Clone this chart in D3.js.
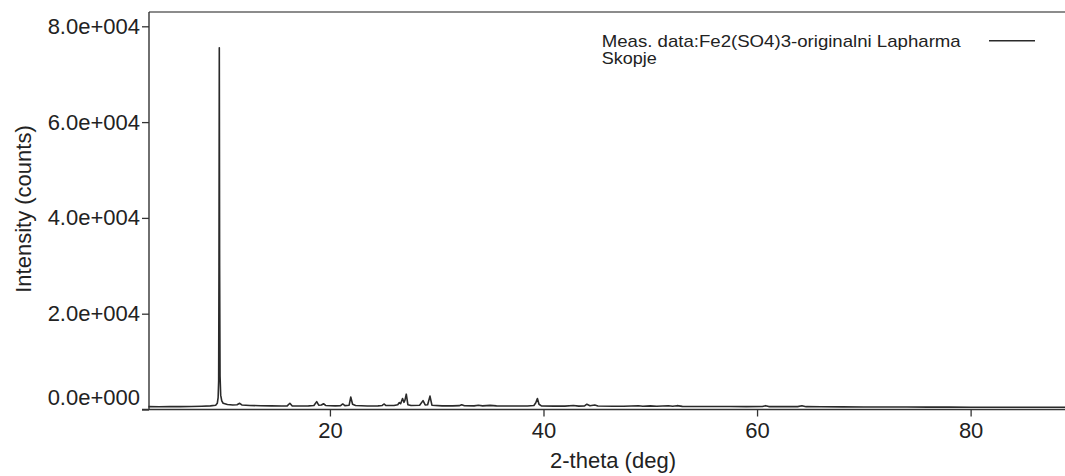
<!DOCTYPE html>
<html>
<head>
<meta charset="utf-8">
<script src="https://cdn.jsdelivr.net/npm/d3@7/dist/d3.min.js"></script>
<style>
  html, body { margin: 0; padding: 0; background: #fff; }
  svg { display: block; font-family: "Liberation Sans", Arial, sans-serif; }
</style>
</head>
<body>
<svg id="chart" width="1065" height="476"></svg>
<script>
// ---- data ----
const twoTheta = [
  3.0, 4.0, 5.0, 6.0, 7.0, 8.0, 8.8, 9.3, 9.45, 9.53, 9.58, 9.61, 9.64, 9.67, 9.71, 9.77, 9.87, 10.0,
  10.4, 10.9, 11.3, 11.55, 11.75, 12.5, 13.5, 14.5, 15.5, 16.0, 16.25, 16.45, 17.0, 18.0, 18.5, 18.76,
  18.95, 19.2, 19.4, 19.6, 20.5, 21.0, 21.2, 21.4, 21.8, 21.95, 22.12, 22.4, 23.5, 24.5, 24.9, 25.06,
  25.25, 26.0, 26.35, 26.5, 26.62, 26.8, 26.93, 27.02, 27.15, 27.3, 27.6, 28.4, 28.72, 28.92, 29.15,
  29.37, 29.55, 30.5, 31.5, 32.1, 32.34, 32.6, 33.5, 33.9, 34.3, 35.0, 35.6, 36.5, 37.5, 38.5, 39.1,
  39.28, 39.43, 39.58, 39.8, 41.0, 42.0, 42.8, 43.3, 43.85, 44.06, 44.35, 44.8, 45.1, 46.5, 47.5, 48.9,
  49.3, 50.0, 50.6, 51.7, 52.1, 52.5, 53.0, 54.5, 56.0, 57.5, 59.0, 60.5, 60.8, 61.1, 62.5, 63.8, 64.2,
  64.6, 66.0, 68.0, 70.0, 72.0, 74.0, 76.0, 78.0, 80.0, 82.0, 84.0, 86.0, 88.0, 90.0
];
const counts = [
  600, 580, 590, 600, 620, 680, 760, 900, 1300, 2500, 6000, 30000, 75500, 30000, 7000, 3000, 1800, 1300,
  1050, 950, 1000, 1300, 950, 850, 780, 750, 740, 760, 1300, 760, 740, 760, 820, 1650,
  900, 950, 1200, 850, 760, 800, 1150, 800, 900, 2600, 1100, 820, 740, 760, 850, 1150,
  820, 820, 1000, 1450, 1200, 2300, 1500, 1900, 3200, 1000, 820, 900, 1850, 950, 1000,
  2800, 900, 760, 750, 800, 1000, 780, 760, 880, 760, 870, 760, 740, 730, 740, 850,
  1400, 2300, 1100, 760, 700, 700, 830, 700, 750, 1100, 800, 950, 720, 680, 680, 780,
  680, 750, 670, 780, 680, 800, 660, 640, 620, 620, 610, 620, 800, 610, 590, 600, 780,
  590, 560, 540, 530, 520, 510, 500, 490, 480, 475, 470, 465, 460, 455
];
const xTicks = [20, 40, 60, 80];
const yTicks = [0, 20000, 40000, 60000, 80000];
const yTickLabels = ["0.0e+000", "2.0e+004", "4.0e+004", "6.0e+004", "8.0e+004"];
const seriesName = ["Meas. data:Fe2(SO4)3-originalni Lapharma", "Skopje"];
const xTitle = "2-theta (deg)";
const yTitle = "Intensity (counts)";

// ---- layout ----
const svg = d3.select("#chart");
const pLeft = 149, pRight = 1077.4, pTop = 12, pBottom = 409.5;
const x = d3.scaleLinear().domain([3, 90]).range([pLeft - 0.6, pRight]);
const y = d3.scaleLinear().domain([0, 80000]).range([pBottom, 26.3]);

const textColor = "#222";

// frame (top + left)
svg.append("line").attr("x1", pLeft).attr("x2", 1065).attr("y1", pTop).attr("y2", pTop)
  .attr("stroke", "#666").attr("stroke-width", 1.6);
svg.append("line").attr("x1", pLeft).attr("x2", pLeft).attr("y1", pTop).attr("y2", pBottom)
  .attr("stroke", "#333").attr("stroke-width", 1.4);

// data line
const data = twoTheta.map((t, i) => [t, counts[i]]);
svg.append("path")
  .datum(data)
  .attr("fill", "none")
  .attr("stroke", "#2a2a2a")
  .attr("stroke-width", 1.6)
  .attr("stroke-linejoin", "round")
  .attr("d", d3.line().x(d => x(d[0])).y(d => y(d[1])));

// x axis
const gx = svg.append("g").attr("transform", `translate(0,${pBottom})`)
  .call(d3.axisBottom(x).tickValues(xTicks).tickSize(7).tickPadding(6).tickFormat(d3.format("d")));
gx.select(".domain").attr("d", `M${pLeft - 7},0H1065`).attr("stroke", "#333").attr("stroke-width", 1.6);
gx.selectAll(".tick line").attr("stroke", "#333").attr("stroke-width", 1.3);
gx.selectAll(".tick text").attr("font-size", 22).attr("fill", textColor)
  .attr("font-family", "Liberation Sans, Arial, sans-serif");

// y axis
const gy = svg.append("g").attr("transform", `translate(${pLeft},0)`)
  .call(d3.axisLeft(y).tickValues(yTicks).tickSize(7).tickPadding(2)
    .tickFormat((d, i) => yTickLabels[i]));
gy.select(".domain").remove();
gy.selectAll(".tick line").attr("stroke", "#333").attr("stroke-width", 1.3);
gy.selectAll(".tick text").attr("font-size", 22).attr("fill", textColor)
  .attr("font-family", "Liberation Sans, Arial, sans-serif")
  .attr("dy", (d) => d === 0 ? "-0.22em" : "0.32em");

// axis titles
svg.append("text").attr("x", 613).attr("y", 468).attr("text-anchor", "middle")
  .attr("font-size", 22).attr("fill", textColor).text(xTitle);
svg.append("text").attr("transform", "translate(31,209) rotate(-90)").attr("text-anchor", "middle")
  .attr("font-size", 22).attr("fill", textColor).text(yTitle);

// legend
const lg = svg.append("g");
lg.append("text").attr("x", 601.7).attr("y", 46.5).attr("font-size", 16.4).attr("fill", textColor)
  .attr("textLength", 359).attr("lengthAdjust", "spacingAndGlyphs")
  .text(seriesName[0]);
lg.append("text").attr("x", 601.7).attr("y", 64).attr("font-size", 16.4).attr("fill", textColor)
  .attr("textLength", 55).attr("lengthAdjust", "spacingAndGlyphs")
  .text(seriesName[1]);
lg.append("line").attr("x1", 989).attr("x2", 1035).attr("y1", 40.7).attr("y2", 40.7)
  .attr("stroke", "#2a2a2a").attr("stroke-width", 1.6);
</script>
</body>
</html>
